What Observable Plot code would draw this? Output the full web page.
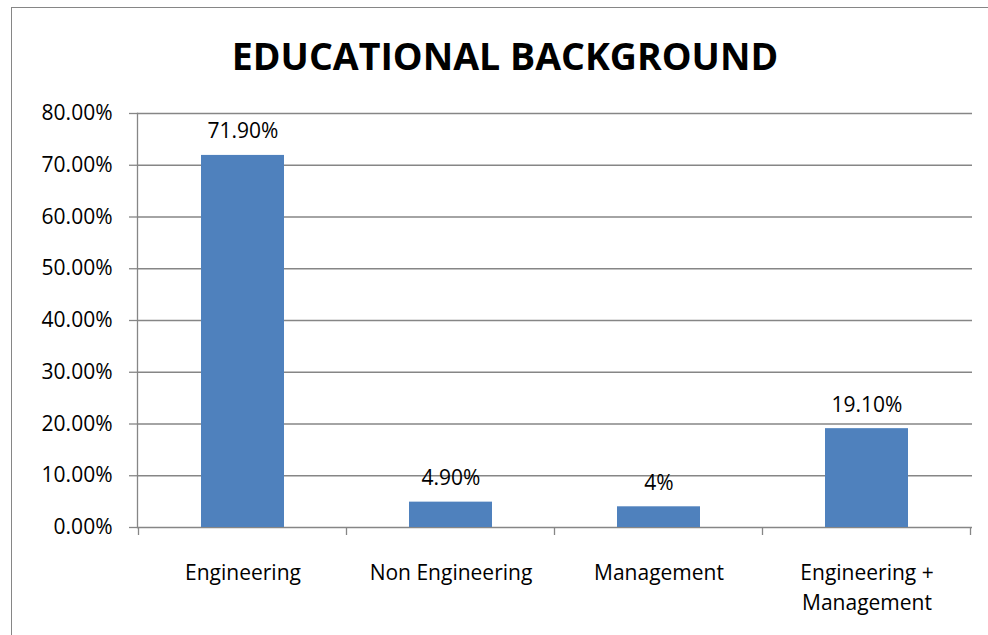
<!DOCTYPE html>
<html>
<head>
<meta charset="utf-8">
<script src="https://cdn.jsdelivr.net/npm/d3@7"></script>
<script src="https://cdn.jsdelivr.net/npm/@observablehq/plot@0.6"></script>
<style>
  html, body { margin: 0; padding: 0; background: #fff; }
  #wrap { position: relative; width: 988px; height: 635px; overflow: hidden; }
  #border { position: absolute; left: 11px; top: 7px; width: 1200px; height: 1000px;
            border-left: 1.3px solid #868686; border-top: 1.3px solid #868686; box-sizing: border-box; }
  #title { position: absolute; left: 22px; top: 0; width: 966px; height: 95px; text-align: center;
           font-family: "Open Sans", sans-serif; font-weight: bold; font-size: 37.5px; line-height: 112px; color: #000; }
  #chart { position: absolute; left: 0; top: 95px; }
</style>
</head>
<body>
<div id="wrap">
  <div id="border"></div>
  <div id="title">EDUCATIONAL BACKGROUND</div>
  <div id="chart"></div>
</div>
<script>
const categories = ["Engineering", "Non Engineering", "Management", "Engineering +\nManagement"];
const values = [71.9, 4.9, 4, 19.1];
const valueLabels = ["71.90%", "4.90%", "4%", "19.10%"];
const yTicks = [0, 10, 20, 30, 40, 50, 60, 70, 80];
const yTickLabels = ["0.00%", "10.00%", "20.00%", "30.00%", "40.00%", "50.00%", "60.00%", "70.00%", "80.00%"];

const data = categories.map((c, i) => ({cat: c, value: values[i], label: valueLabels[i]}));
const gray = "#868686";
const font = "'Open Sans', sans-serif";

function boundaryTicks(index, scales, values, dimensions) {
  const xs = scales.x;
  const bw = typeof xs.bandwidth === "function" ? xs.bandwidth() : scales.scales.x.bandwidth;
  const step = xs(categories[1]) - xs(categories[0]);
  const start = xs(categories[0]) - (step - bw) / 2;
  const y0 = scales.y(0);
  const g = d3.create("svg:g");
  for (let i = 0; i <= categories.length; i++) {
    const bx = start + i * step;
    g.append("line").attr("x1", bx).attr("x2", bx).attr("y1", y0).attr("y2", y0 + 8)
      .attr("stroke", gray).attr("stroke-width", 1.3);
  }
  return g.node();
}

const plot = Plot.plot({
  width: 988,
  height: 540,
  marginTop: 18,
  marginBottom: 108,
  marginLeft: 137,
  marginRight: 16,
  style: {fontFamily: font, fontSize: "21px", color: "#000", background: "transparent"},
  x: {domain: categories, paddingInner: 0.6, paddingOuter: 0.3, axis: null},
  y: {domain: [0, 80], axis: null},
  marks: [
    Plot.gridY(yTicks, {stroke: gray, strokeOpacity: 1, strokeWidth: 1.3}),
    Plot.axisY({ticks: yTicks, tickSize: 8, tickPadding: 17, stroke: gray, strokeWidth: 1.3,
      tickFormat: d => yTickLabels[yTicks.indexOf(d)], fontSize: 21, fill: "#000", label: null}),
    Plot.frame({anchor: "left", stroke: gray, strokeWidth: 1.3}),
    Plot.barY(data, {x: "cat", y: "value", fill: "#4F81BD"}),
    boundaryTicks,
    Plot.text(data, {x: "cat", y: "value", text: "label", lineAnchor: "bottom", dy: -17, fontSize: 21, fill: "#000"}),
    Plot.text(data, {x: "cat", y: () => 0, text: "cat", lineAnchor: "top", dy: 32, lineHeight: 1.4, fontSize: 21, fill: "#000"})
  ]
});
document.getElementById("chart").appendChild(plot);
</script>
</body>
</html>
